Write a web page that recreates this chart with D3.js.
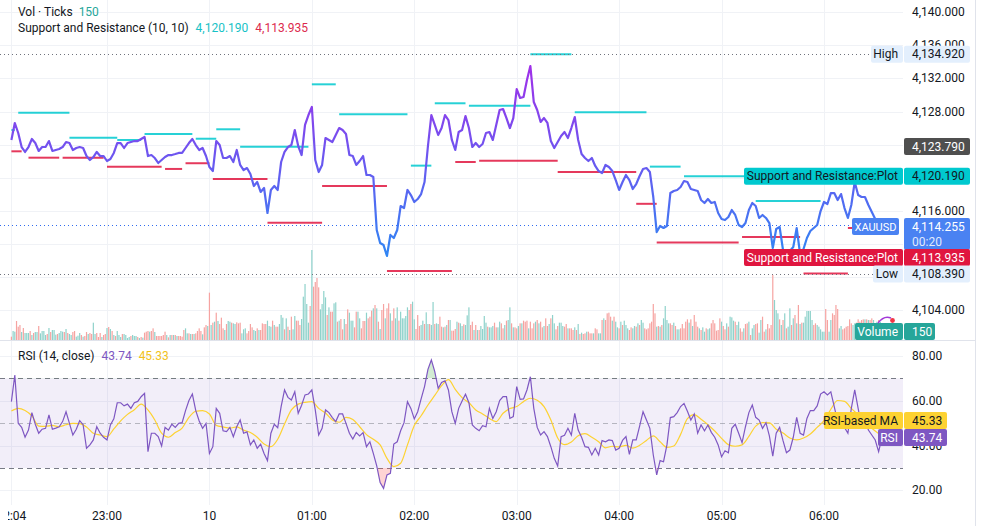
<!DOCTYPE html>
<html>
<head>
<meta charset="utf-8">
<script src="https://cdn.jsdelivr.net/npm/d3@7"></script>
<style>
html, body { margin: 0; padding: 0; background: #fff; }
svg { display: block; font-family: Roboto, "Open Sans", sans-serif; font-size: 12px; }
</style>
</head>
<body>
<div id="chart"></div>
<script>
var startTime = "22:04";

// 2 minute closes
var closeStepMin = 2;
var closes = [
    4124.57, 4126.62, 4125.41, 4123.72, 4123.12, 4123.72, 4124.69, 4124.20, 4123.24, 4123.72,
    4123.72, 4124.44, 4123.24, 4123.36, 4123.48, 4123.72, 4124.32, 4124.20, 4123.36, 4123.60,
    4123.72, 4123.60, 4122.63, 4122.15, 4122.51, 4123.12, 4122.63, 4122.63, 4122.03, 4122.27,
    4123.00, 4124.20, 4124.20, 4123.60, 4124.20, 4124.32, 4124.44, 4124.44, 4124.69, 4124.93,
    4122.63, 4122.75, 4122.39, 4121.79, 4122.15, 4122.51, 4122.75, 4122.75, 4122.87, 4123.00,
    4123.00, 4123.60, 4124.20, 4124.69, 4123.96, 4123.36, 4123.60, 4122.63, 4121.30, 4120.82,
    4124.44, 4123.96, 4122.39, 4122.39, 4122.63, 4121.91, 4123.36, 4121.55, 4120.94, 4121.18,
    4120.46, 4119.01, 4119.49, 4118.29, 4118.77, 4115.75, 4118.53, 4119.01, 4118.53, 4121.91,
    4123.12, 4123.72, 4123.96, 4125.77, 4123.84, 4122.75, 4126.38, 4127.58, 4128.55, 4122.15,
    4120.70, 4121.55, 4124.81, 4124.57, 4124.32, 4125.17, 4126.01, 4125.77, 4125.29, 4122.75,
    4122.63, 4121.55, 4122.03, 4122.63, 4120.34, 4120.34, 4120.10, 4113.70, 4112.13, 4111.88,
    4110.56, 4113.10, 4112.73, 4113.70, 4116.59, 4116.35, 4118.53, 4117.92, 4117.08, 4117.44,
    4118.04, 4119.49, 4123.84, 4127.58, 4126.38, 4125.17, 4126.01, 4127.58, 4126.98, 4124.57,
    4123.36, 4125.53, 4125.77, 4127.46, 4126.01, 4123.72, 4124.20, 4123.72, 4124.08, 4125.41,
    4125.53, 4124.57, 4126.38, 4128.19, 4128.31, 4127.22, 4126.01, 4127.22, 4130.72, 4129.64,
    4129.76, 4131.81, 4133.50, 4129.15, 4128.19, 4126.74, 4127.22, 4126.62, 4124.44, 4123.60,
    4124.32, 4125.05, 4125.53, 4124.81, 4126.01, 4127.34, 4124.57, 4122.87, 4122.39, 4122.03,
    4122.39, 4121.43, 4120.82, 4120.58, 4121.55, 4121.30, 4120.82, 4119.73, 4118.53, 4119.49,
    4120.34, 4119.73, 4118.65, 4119.25, 4120.22, 4121.06, 4121.18, 4120.70, 4117.68, 4113.45,
    4114.18, 4113.94, 4114.18, 4118.16, 4118.41, 4118.53, 4118.89, 4119.61, 4119.49, 4118.65,
    4118.53, 4118.41, 4117.32, 4116.96, 4117.44, 4116.96, 4117.08, 4115.75, 4115.02, 4114.90,
    4115.27, 4116.11, 4115.51, 4114.30, 4114.06, 4114.54, 4116.11, 4116.96, 4116.59, 4115.15,
    4115.51, 4115.15, 4114.54, 4111.52, 4113.82, 4114.06, 4111.28, 4110.80, 4111.16, 4111.64,
    4113.94, 4110.80, 4111.40, 4112.73, 4113.58, 4113.94, 4114.30, 4115.99, 4117.08, 4116.84,
    4118.16, 4118.16, 4117.32, 4118.04, 4116.35, 4115.15, 4116.72, 4119.49, 4117.92, 4117.68,
    4117.68, 4116.72, 4115.87, 4115.02, 4113.45, 4114.255
];

// 1 minute tick volume, g = up bar, r = down bar
var volumeStepMin = 1;
var volumes = [
    60, 162, 150, 342, 240, 270, 144, 216, 126, 126,
    126, 162, 90, 126, 144, 144, 252, 120, 162, 162,
    90, 108, 216, 144, 180, 180, 96, 108, 126, 162,
    150, 144, 198, 126, 108, 90, 144, 162, 60, 78,
    126, 90, 60, 72, 144, 108, 126, 108, 312, 108,
    126, 54, 126, 54, 90, 108, 216, 234, 198, 162,
    90, 72, 162, 90, 54, 108, 108, 90, 36, 54,
    72, 90, 72, 72, 54, 36, 54, 42, 132, 150,
    162, 150, 162, 210, 144, 72, 72, 72, 72, 90,
    150, 90, 48, 90, 90, 90, 90, 72, 72, 72,
    60, 180, 210, 120, 120, 108, 108, 108, 120, 162,
    210, 162, 102, 228, 270, 252, 852, 270, 312, 330,
    492, 342, 288, 402, 210, 180, 288, 342, 330, 312,
    300, 288, 318, 300, 312, 120, 192, 210, 120, 162,
    288, 228, 180, 162, 210, 180, 180, 300, 288, 288,
    348, 252, 240, 348, 270, 240, 240, 288, 450, 402,
    192, 390, 240, 180, 420, 192, 432, 348, 348, 270,
    378, 780, 1008, 648, 312, 612, 1620, 960, 1044, 1116,
    948, 552, 648, 882, 768, 450, 588, 510, 510, 660,
    678, 330, 348, 378, 192, 378, 288, 552, 492, 348,
    348, 228, 510, 510, 390, 210, 342, 342, 492, 390,
    420, 528, 570, 630, 570, 330, 198, 540, 648, 390,
    570, 660, 480, 348, 570, 390, 588, 348, 510, 390,
    390, 432, 588, 540, 648, 690, 372, 198, 450, 252,
    270, 348, 288, 498, 288, 288, 270, 684, 288, 300,
    288, 420, 240, 228, 240, 270, 360, 360, 168, 168,
    198, 330, 312, 300, 252, 282, 270, 444, 588, 270,
    330, 180, 270, 180, 180, 252, 198, 432, 312, 240,
    228, 228, 252, 312, 228, 228, 330,
    300, 210, 270, 348, 360, 588, 300, 228, 228, 210,
    252, 300, 300, 348, 330, 348, 210, 330, 210, 300,
    330, 360, 300, 330, 228, 252, 390, 252, 288, 390,
    450, 300, 192, 252, 312, 312, 252, 240, 288, 210,
    210, 210, 180, 228, 180, 288, 108, 132, 108, 120,
    150, 150, 120, 120, 120, 210, 192, 120, 120, 360,
    390, 360, 480, 492, 420, 348, 420, 330, 228, 210,
    330, 270, 348, 270, 210, 180, 228, 210, 252, 240,
    300, 270, 360, 312, 210, 192, 210, 300, 330, 648,
    480, 240, 252, 240, 270, 390, 612, 360, 300, 300,
    270, 312, 252, 192, 192, 210, 288, 210, 330, 372,
    312, 372, 252, 450, 330, 240, 210, 180, 228, 150,
    210, 192, 210, 300, 360, 300, 168, 180, 390, 330,
    252, 192, 300, 240, 420, 408, 348, 330, 270, 330,
    210, 150, 210, 288, 300, 330, 90, 210, 270, 288,
    300, 132, 360, 420, 150, 192, 288, 210, 270, 1170,
    720, 540, 480, 372, 270, 360, 480, 210, 240, 570,
    270, 390, 450, 300, 630, 288, 312, 312, 420, 522,
    522, 522, 360, 270, 300, 270, 240, 192, 150, 150,
    558, 360, 150, 360, 480, 450, 630, 558, 210, 252,
    192, 210, 240, 252, 372, 300, 270, 300, 312, 372,
    330, 360, 372, 372, 372, 360, 360, 390, 360, 300,
    330, 360, 330, 150
];
var volumeDir =
    "rggrrrgrgg" + "grgrggrggg" + "grgrgggrgg" + "grgrggrrgg" + "grgrrgrrgg" + "rrrgrrgrgr" +
    "grgggrgggg" + "rgggrgrgrr" + "rgrrgrrrrr" + "rgrgrgrgrr" + "rrggrgrgrr" + "rrgrrgrgrg" +
    "rgrrrgrggr" + "ggrrrgggrr" + "rrggrgrrrr" + "gggrgrrggg" + "rgrgrggrrr" + "gggggrgrrr" +
    "rggggrgrrg" + "grgrrgrrgg" + "grrggrrrgr" + "rrgrgrgrrg" + "rrgrrggrgg" + "gggrrggrrr" +
    "ggrggrggrg" + "grrgrgrgrr" + "rgrggrgggr" + "rgrgrggggr" + "gggrrgg" +
    "rrgrggrgrr" + "grgrrrgrrr" + "grgrrgrrgr" + "ggrrgggrrg" + "rrrgrgrgrr" + "grrrgrrggr" +
    "grrrrgrggr" + "grgggrrggr" + "grggrrrrrr" + "rgrgrggggr" + "rgrggrrrrr" + "grgrrrgrgg" +
    "rggrrrrrrg" + "rrgrgggrgg" + "rrgrrgrggr" + "rggrrgrrrr" + "gggrgrgrgg" + "rgrgrgrggg" +
    "gggrrggggg" + "rrggrrrrgg" + "rrrrrrggrr" + "rrrgrgrrgg" + "gr" + "gg";

var rsiStepMin = 2;
var rsiValues = [
    59.6, 71.5, 49.9, 48.1, 43.7, 46.9, 54.7, 49.5, 45.5, 47.3,
    47.7, 53.7, 47.3, 47.8, 48.4, 50.7, 55.1, 49.9, 44.7, 47.3,
    51.1, 49.3, 38.8, 40.3, 42.5, 48.4, 45.5, 43.7, 42.5, 49.2,
    51.9, 59.1, 59.1, 57.7, 58.5, 56.6, 59.1, 59.7, 61.8, 63.3,
    37.3, 45.5, 45.5, 44.0, 39.8, 48.1, 46.9, 49.5, 48.1, 49.9,
    50.2, 55.6, 60.1, 63.0, 55.6, 51.0, 47.7, 49.9, 36.5, 39.5,
    56.6, 54.4, 46.6, 46.2, 48.1, 44.0, 48.4, 51.4, 45.5, 46.1,
    40.3, 42.5, 38.8, 40.6, 36.5, 33.3, 45.5, 49.5, 48.0, 57.4,
    64.8, 61.5, 60.3, 64.0, 54.4, 58.0, 62.6, 63.0, 64.8, 55.9,
    44.7, 47.7, 55.9, 54.7, 52.5, 50.7, 54.1, 54.1, 49.9, 45.5,
    42.9, 45.8, 44.3, 45.8, 39.5, 41.7, 36.5, 30.9, 23.5, 20.9,
    26.9, 27.6, 40.7, 41.7, 46.6, 50.2, 59.6, 56.6, 51.9, 55.1,
    60.8, 66.3, 74.0, 78.2, 73.0, 65.5, 68.2, 68.9, 64.8, 55.1,
    49.9, 56.6, 59.9, 62.9, 59.1, 49.2, 47.7, 46.6, 48.9, 48.4,
    56.6, 52.1, 55.1, 60.1, 61.8, 61.8, 52.1, 52.9, 66.3, 60.6,
    60.8, 64.8, 70.7, 56.6, 48.1, 44.7, 46.2, 44.0, 39.5, 34.3,
    30.9, 44.0, 44.6, 47.7, 44.7, 54.4, 46.9, 43.7, 39.5, 39.2,
    35.8, 38.8, 35.8, 42.2, 41.7, 42.5, 42.2, 38.0, 38.8, 42.3,
    44.0, 36.1, 42.5, 42.5, 48.7, 55.1, 51.4, 47.7, 35.8, 26.9,
    33.3, 32.8, 40.3, 52.5, 52.9, 54.7, 57.4, 58.8, 55.3, 51.4,
    54.1, 45.5, 49.2, 46.6, 49.2, 45.9, 43.7, 40.3, 35.0, 37.7,
    36.8, 47.7, 49.5, 45.5, 41.3, 48.4, 54.7, 58.1, 52.6, 51.4,
    47.7, 50.2, 44.3, 35.3, 45.5, 48.1, 42.2, 36.8, 38.0, 43.7,
    52.6, 45.5, 44.7, 52.1, 55.6, 55.6, 57.7, 63.0, 64.0, 62.6,
    64.0, 57.4, 50.7, 49.2, 48.1, 45.5, 56.6, 64.8, 56.6, 48.4,
    51.4, 46.9, 44.7, 42.5, 37.3, 43.74
];

var rsiMaStepMin = 4;
var rsiMa = [
    55.4, 56.6, 55.6, 53.2, 48.7, 48.6, 49.0, 48.4, 49.3, 49.9,
    49.8, 48.3, 45.5, 44.7, 44.0, 47.4, 51.0, 53.9, 56.0, 58.5,
    55.9, 51.4, 45.5, 43.7, 45.8, 47.8, 52.6, 55.3, 55.6, 54.1,
    49.0, 48.3, 47.8, 48.3, 46.9, 45.8, 43.7, 40.7, 39.5, 42.8,
    49.6, 55.9, 58.5, 59.3, 59.6, 56.6, 54.5, 51.4, 50.4, 52.6,
    51.6, 48.4, 44.9, 42.8, 40.3, 34.3, 30.6, 32.1, 40.3, 48.9,
    53.3, 58.1, 62.4, 66.7, 69.4, 65.1, 61.4, 59.1, 55.9, 54.1,
    52.1, 50.7, 54.4, 56.5, 57.4, 59.6, 61.1, 60.2, 57.4, 51.4,
    43.4, 40.4, 41.6, 44.4, 45.3, 43.7, 41.7, 39.0, 39.7, 39.4,
    40.1, 38.9, 40.1, 42.3, 44.3, 41.7, 39.2, 39.8, 45.0, 52.0,
    53.8, 51.7, 49.3, 46.5, 43.2, 40.4, 39.7, 40.3, 44.1, 48.7,
    50.2, 50.1, 47.3, 45.6, 43.4, 42.5, 43.4, 45.2, 48.1, 51.1,
    56.2, 60.1, 59.7, 56.6, 53.7, 50.7, 47.7, 45.33
];

// support / resistance pivots: from, to, level
var resistanceLevels = [
    ["22:04", "22:06", 4125.77], ["22:08", "22:38", 4127.86], ["22:38", "23:06", 4124.84],
    ["23:06", "23:20", 4124.57], ["23:22", "23:50", 4125.29], ["23:52", "00:04", 4124.72],
    ["00:04", "00:18", 4125.86], ["00:18", "00:58", 4123.76], ["01:00", "01:14", 4131.29],
    ["01:16", "01:56", 4127.67], ["01:58", "02:10", 4121.47], ["02:12", "02:30", 4129.00],
    ["02:32", "03:08", 4128.71], ["03:08", "03:32", 4134.92], ["03:34", "04:16", 4127.91],
    ["04:18", "04:36", 4121.35], ["04:38", "06:34", 4120.19], ["05:20", "05:58", 4117.21]
];
var supportLevels = [
    ["22:04", "22:10", 4123.20], ["22:14", "22:32", 4122.43], ["22:34", "22:58", 4122.43],
    ["23:00", "23:32", 4121.35], ["23:34", "23:44", 4121.07], ["23:46", "00:00", 4121.76],
    ["00:02", "00:34", 4119.87], ["00:34", "01:06", 4114.56], ["01:06", "01:44", 4119.02],
    ["01:44", "02:22", 4108.75], ["02:24", "02:36", 4121.91], ["02:38", "03:24", 4122.07],
    ["03:24", "04:10", 4120.70], ["04:10", "04:22", 4116.86], ["04:22", "05:10", 4112.18],
    ["05:12", "05:46", 4112.86], ["05:48", "06:14", 4108.45], ["06:14", "06:34", 4113.935]
];

var priceTicks = [4104, 4108, 4112, 4116, 4120, 4124, 4128, 4132, 4136, 4140];
var rsiTicks = [20, 40, 60, 80];
var timeTicks = ["22:04", "23:00", "00:00", "01:00", "02:00", "03:00", "04:00", "05:00", "06:00"];
var timeTickLabels = ["22:04", "23:00", "10", "01:00", "02:00", "03:00", "04:00", "05:00", "06:00"];

var sessionHigh = 4134.92, sessionLow = 4108.39, lastPrice = 4114.255, prevClose = 4123.79,
    lastResistance = 4120.19, lastSupport = 4113.935, lastVolume = 150,
    lastRsi = 43.74, lastRsiMa = 45.33, countdown = "00:20";

var W = 985, H = 526,
    plotRight = 903,
    mainBottom = 340,
    paneBottom = 505,
    teal = "#26a69a", cyan = "#00c9cf", red = "#e0163f", blue = "#4a82f2",
    purple = "#7e57c2", yellow = "#fdd232", ink = "#131722";

function clock(s) {
    var p = s.split(":"), h = +p[0];
    return new Date(2025, 0, h >= 12 ? 9 : 10, h, +p[1]);
}
var t0 = clock(startTime);
function atStep(i, step) {
    return new Date(t0.getTime() + i * step * 60000);
}

var x = d3.scaleTime().domain([clock("23:00"), clock("06:00")]).range([107, 824]);
var yPrice = d3.scaleLinear().domain([4104, 4140]).range([310.3, 12.2]);
var yVol = d3.scaleLinear().domain([0, 1800]).range([mainBottom, mainBottom - 100]);
var yRsi = d3.scaleLinear().domain([20, 80]).range([490.4, 355.9]);
var fmtPrice = d3.format(",.3f"), fmtRsi = d3.format(".2f");

var svg = d3.select("#chart").append("svg").attr("width", W).attr("height", H);
var defs = svg.append("defs");

defs.append("clipPath").attr("id", "clipMain").append("rect")
    .attr("x", 0).attr("y", 0).attr("width", plotRight).attr("height", mainBottom);
defs.append("clipPath").attr("id", "clipRsi").append("rect")
    .attr("x", 0).attr("y", mainBottom + 1).attr("width", plotRight).attr("height", paneBottom - mainBottom - 1);
defs.append("clipPath").attr("id", "clipTime").append("rect")
    .attr("x", 8).attr("y", paneBottom).attr("width", plotRight - 8).attr("height", H - paneBottom);
defs.append("clipPath").attr("id", "clipOB").append("rect")
    .attr("x", 0).attr("y", 0).attr("width", plotRight).attr("height", yRsi(70));
defs.append("clipPath").attr("id", "clipOS").append("rect")
    .attr("x", 0).attr("y", yRsi(30)).attr("width", plotRight).attr("height", H);

var grad = defs.append("linearGradient").attr("id", "priceGrad")
    .attr("gradientUnits", "userSpaceOnUse")
    .attr("x1", 0).attr("x2", 0).attr("y1", yPrice(4134)).attr("y2", yPrice(4110));
grad.append("stop").attr("offset", "0%").attr("stop-color", "#a22ee9");
grad.append("stop").attr("offset", "50%").attr("stop-color", "#6a58f0");
grad.append("stop").attr("offset", "100%").attr("stop-color", "#2d88f4");

// grid
var grid = svg.append("g").attr("stroke", "#f0f2f6").attr("stroke-width", 1);
priceTicks.forEach(function (p) {
    var y = Math.round(yPrice(p)) + 0.5;
    grid.append("line").attr("x1", 0).attr("x2", plotRight).attr("y1", y).attr("y2", y);
});
rsiTicks.forEach(function (v) {
    var y = Math.round(yRsi(v)) + 0.5;
    grid.append("line").attr("x1", 0).attr("x2", plotRight).attr("y1", y).attr("y2", y);
});
timeTicks.forEach(function (t) {
    var xx = Math.round(x(clock(t))) + 0.5;
    grid.append("line").attr("x1", xx).attr("x2", xx).attr("y1", 0).attr("y2", paneBottom);
});

svg.append("line").attr("x1", 0).attr("x2", 975).attr("y1", mainBottom + 0.5).attr("y2", mainBottom + 0.5)
    .attr("stroke", "#e0e3eb");
svg.append("line").attr("x1", 975.5).attr("x2", 975.5).attr("y1", 0).attr("y2", H)
    .attr("stroke", "#e0e3eb");

var main = svg.append("g").attr("clip-path", "url(#clipMain)");

// volume
main.append("g").selectAll("rect").data(volumes).enter().append("rect")
    .attr("x", function (d, i) { return x(atStep(i, volumeStepMin)) - 0.6; })
    .attr("width", 1.2)
    .attr("y", function (d) { return yVol(d); })
    .attr("height", function (d) { return mainBottom - yVol(d); })
    .attr("fill", function (d, i) { return volumeDir.charAt(i) === "g" ? "#8fd2cb" : "#f6a3a1"; });

// support / resistance steps
function drawLevels(levels, color) {
    main.append("g").selectAll("line").data(levels).enter().append("line")
        .attr("x1", function (d) { return x(clock(d[0])); })
        .attr("x2", function (d) { return x(clock(d[1])); })
        .attr("y1", function (d) { return yPrice(d[2]); })
        .attr("y2", function (d) { return yPrice(d[2]); })
        .attr("stroke", color).attr("stroke-width", 2).attr("stroke-opacity", 0.85);
}
drawLevels(resistanceLevels, cyan);
drawLevels(supportLevels, red);

function dotted(price, x2, color) {
    var y = Math.round(yPrice(price)) + 0.5;
    main.append("line").attr("x1", 0).attr("x2", x2).attr("y1", y).attr("y2", y)
        .attr("stroke", color).attr("stroke-dasharray", "1,3");
}
dotted(sessionHigh, 871, "#6f727c");
dotted(sessionLow, 873, "#6f727c");
dotted(lastPrice, 852, "#2f6bf0");

var priceLine = d3.line()
    .x(function (d, i) { return x(atStep(i, closeStepMin)); })
    .y(function (d) { return yPrice(d); });
main.append("path").datum(closes).attr("d", priceLine)
    .attr("fill", "none").attr("stroke", "url(#priceGrad)").attr("stroke-width", 2.2)
    .attr("stroke-linejoin", "round");

// rsi pane
var rsiG = svg.append("g").attr("clip-path", "url(#clipRsi)");
rsiG.append("rect").attr("x", 0).attr("width", plotRight)
    .attr("y", yRsi(70)).attr("height", yRsi(30) - yRsi(70))
    .attr("fill", purple).attr("fill-opacity", 0.1);
[70, 50, 30].forEach(function (v) {
    var y = Math.round(yRsi(v)) + 0.5;
    rsiG.append("line").attr("x1", 0).attr("x2", plotRight).attr("y1", y).attr("y2", y)
        .attr("stroke", "#787b86").attr("stroke-opacity", v === 50 ? 0.5 : 1)
        .attr("stroke-dasharray", "5,4");
});
var rsiX = function (d, i) { return x(atStep(i, rsiStepMin)); };
rsiG.append("path").datum(rsiValues)
    .attr("d", d3.area().x(rsiX).y0(yRsi(70)).y1(function (d) { return yRsi(d); }))
    .attr("clip-path", "url(#clipOB)").attr("fill", "#4caf50").attr("fill-opacity", 0.25);
rsiG.append("path").datum(rsiValues)
    .attr("d", d3.area().x(rsiX).y0(yRsi(30)).y1(function (d) { return yRsi(d); }))
    .attr("clip-path", "url(#clipOS)").attr("fill", "#ff5252").attr("fill-opacity", 0.25);
rsiG.append("path").datum(rsiMa)
    .attr("d", d3.line().curve(d3.curveMonotoneX)
        .x(function (d, i) { return x(atStep(i, rsiMaStepMin)); })
        .y(function (d) { return yRsi(d); }))
    .attr("fill", "none").attr("stroke", yellow).attr("stroke-width", 1.2);
rsiG.append("path").datum(rsiValues)
    .attr("d", d3.line().x(rsiX).y(function (d) { return yRsi(d); }))
    .attr("fill", "none").attr("stroke", purple).attr("stroke-width", 1.2);

// axes text, the ones under the tags are not visible anyway
var hiddenTicks = [4124, 4120, 4112, 4108];
var axis = svg.append("g").attr("fill", ink);
priceTicks.forEach(function (p) {
    if (hiddenTicks.indexOf(p) >= 0) { return; }
    axis.append("text").attr("x", 912).attr("y", yPrice(p) + 4).text(fmtPrice(p));
});
rsiTicks.forEach(function (v) {
    axis.append("text").attr("x", 912).attr("y", yRsi(v) + 4).text(fmtRsi(v));
});
var timeG = svg.append("g").attr("clip-path", "url(#clipTime)").attr("fill", ink).attr("text-anchor", "middle");
timeTicks.forEach(function (t, i) {
    timeG.append("text").attr("x", x(clock(t))).attr("y", 520).text(timeTickLabels[i]);
});

// legends
var leg1 = svg.append("text").attr("x", 18).attr("y", 16).attr("fill", ink).text("Vol \u00b7 Ticks");
leg1.append("tspan").attr("dx", 6).attr("fill", teal).text(lastVolume);
var leg2 = svg.append("text").attr("x", 18).attr("y", 32).attr("fill", ink).text("Support and Resistance (10, 10)");
leg2.append("tspan").attr("dx", 7).attr("fill", "#17c2c6").text(fmtPrice(lastResistance));
leg2.append("tspan").attr("dx", 7).attr("fill", "#dc2a4d").text(fmtPrice(lastSupport));
var leg3 = svg.append("text").attr("x", 18).attr("y", 360).attr("fill", ink).text("RSI (14, close)");
leg3.append("tspan").attr("dx", 7).attr("fill", purple).text(fmtRsi(lastRsi));
leg3.append("tspan").attr("dx", 7).attr("fill", "#f2c21a").text(fmtRsi(lastRsiMa));

// tags on the scale
var tags = svg.append("g");
function box(x0, w, yc, h, fill, txt, color, anchor, size) {
    tags.append("rect").attr("x", x0).attr("y", yc - h / 2).attr("width", w).attr("height", h)
        .attr("rx", 2).attr("fill", fill);
    if (txt === null) { return; }
    var t = tags.append("text")
        .attr("x", anchor === "end" ? x0 + w - 5 : (anchor === "middle" ? x0 + w / 2 : x0 + 8))
        .attr("y", yc + 4.2).attr("text-anchor", anchor)
        .attr("fill", color).text(txt);
    if (size) { t.attr("font-size", size); }
}
function nameTag(x0, yc, fill, txt, color) { box(x0, plotRight - x0, yc, 17, fill, txt, color, "end"); }
function valueTag(yc, fill, txt, color, w) { box(904, w || 66, yc, 17, fill, txt, color, "start"); }

nameTag(871, yPrice(sessionHigh), "#e3effd", "High", ink);
valueTag(yPrice(sessionHigh), "#e3effd", fmtPrice(sessionHigh), ink);

valueTag(yPrice(prevClose), "#4f4f4f", fmtPrice(prevClose), "#fff");

nameTag(744, yPrice(lastResistance), cyan, "Support and Resistance:Plot", ink);
valueTag(yPrice(lastResistance), cyan, fmtPrice(lastResistance), ink);

box(852, 47, 226.5, 17, blue, "XAUUSD", "#fff", "middle", 11);
box(904, 66, 234, 32, blue, null);
tags.append("text").attr("x", 912).attr("y", 230.5).attr("fill", "#fff").text(fmtPrice(lastPrice));
tags.append("text").attr("x", 912).attr("y", 246).attr("fill", "#fff").attr("fill-opacity", 0.85).text(countdown);

nameTag(744, 257.5, red, "Support and Resistance:Plot", "#fff");
valueTag(257.5, red, fmtPrice(lastSupport), "#fff");

nameTag(873, yPrice(sessionLow), "#e3effd", "Low", ink);
valueTag(yPrice(sessionLow), "#e3effd", fmtPrice(sessionLow), ink);

svg.append("path").attr("d", "M878,323 Q884,315 891,318").attr("fill", "none")
    .attr("stroke", "#a238d8").attr("stroke-width", 1.5);
svg.append("circle").attr("cx", 892.5).attr("cy", 320.5).attr("r", 2.4).attr("fill", "#f23645");
nameTag(855, 331.5, teal, "Volume", "#fff");
valueTag(331.5, teal, lastVolume, "#fff", 31);

nameTag(824, 420.5, yellow, "RSI-based MA", ink);
valueTag(420.5, yellow, fmtRsi(lastRsiMa), ink, 43);
nameTag(878, 437.5, purple, "RSI", "#fff");
valueTag(437.5, purple, fmtRsi(lastRsi), "#fff", 43);
</script>
</body>
</html>
